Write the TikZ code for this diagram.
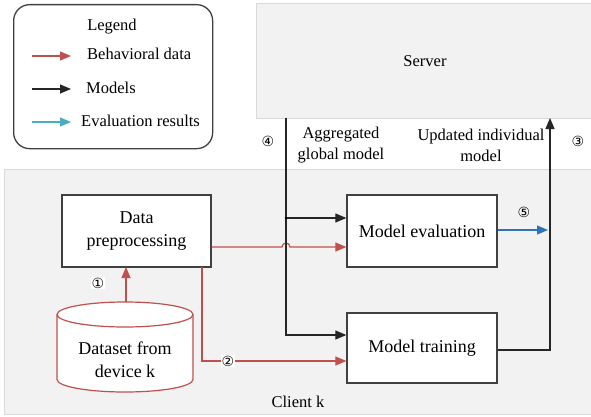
\documentclass[tikz,border=0pt]{standalone}
\usepackage{fontspec}
\setmainfont{Liberation Serif}
\newfontfamily\circfont{DejaVu Sans}
\usetikzlibrary{arrows.meta}
\definecolor{datared}{RGB}{192,80,77}
\definecolor{evalblue}{RGB}{46,117,182}
\definecolor{legblue}{RGB}{75,172,198}
\definecolor{panelfill}{RGB}{242,242,242}
\definecolor{panelline}{RGB}{217,217,217}
\definecolor{boxline}{RGB}{64,64,64}
\tikzset{
  panel/.style={fill=panelfill,draw=panelline,line width=1.2pt},
  procbox/.style={draw=boxline,fill=white,line width=1.3pt,align=center,font=\fontsize{18}{23}\selectfont},
  lbl/.style={font=\fontsize{16.5}{21}\selectfont,align=center,inner sep=0pt},
  num/.style={font=\circfont\fontsize{14}{14}\selectfont,inner sep=0pt},
  tip/.style={-{Triangle[length=11pt,width=9pt]}},
  datafl/.style={draw=datared,line width=1.2pt},
  modelfl/.style={draw=black!85,line width=1.2pt},
  evalfl/.style={draw=evalblue,line width=1.2pt},
}
\begin{document}
\begin{tikzpicture}[x=1pt,y=-1pt]
\useasboundingbox (0,0) rectangle (591,417);
\fill[white] (0,0) rectangle (591,417);
% panels
\node[panel,anchor=north west,minimum width=600pt,minimum height=245pt,inner sep=0pt] (client) at (4,169) {};
\node[panel,anchor=north west,minimum width=345pt,minimum height=115pt,inner sep=0pt] (server) at (256,3) {};
\node[lbl] (servertxt) at (425,61) {Server};
\node[lbl] (clienttxt) at (298,402) {Client k};
% legend
\node[draw=boxline,line width=1.3pt,rounded corners=16pt,minimum width=199pt,minimum height=144pt,anchor=north west] (legend) at (13,4) {};
\node[lbl] (legtitle) at (112,27) {Legend};
\coordinate (lr1) at (32,56); \coordinate (lr2) at (71,56);
\coordinate (lb1) at (32,89); \coordinate (lb2) at (71,89);
\coordinate (lc1) at (32,122); \coordinate (lc2) at (71,122);
\draw[datafl,tip] (lr1) -- (lr2);
\draw[modelfl,tip] (lb1) -- (lb2);
\draw[draw=legblue,line width=1.2pt,tip] (lc1) -- (lc2);
\node[lbl,anchor=west] (legdata) at (87,54) {Behavioral data};
\node[lbl,anchor=west] (legmodel) at (86,88) {Models};
\node[lbl,anchor=west] (legeval) at (81,121) {Evaluation results};
% boxes
\node[procbox,minimum width=149pt,minimum height=72pt] (prep) at (136.5,231) {Data\\preprocessing};
\node[procbox,minimum width=150pt,minimum height=72pt] (eval) at (422,231) {Model evaluation};
\node[procbox,minimum width=150pt,minimum height=70pt] (train) at (422,348) {Model training};
% cylinder
\draw[datared,line width=1.2pt,fill=white] (57,314.5) arc[start angle=180,end angle=0,x radius=68pt,y radius=12.5pt]
  -- (193,379.5) arc[start angle=0,end angle=-180,x radius=68pt,y radius=12.5pt] -- cycle;
\draw[datared,line width=1.2pt] (57,314.5) arc[start angle=180,end angle=360,x radius=68pt,y radius=12.5pt];
\node[procbox,draw=none,fill=none,inner sep=0pt] (dataset) at (125,360) {Dataset from\\device k};
\coordinate (cyltop) at (126,302);
% data flows
\draw[datafl,tip] (cyltop) -- (126,267);
\node[num,fill=white,inner sep=1pt] (n1) at (98,283) {①};
\draw[datafl,tip] (prep.east |- 0,247) -- (282,247) arc[start angle=180,end angle=0,radius=4pt] -- (eval.west |- 0,247);
\draw[datafl,tip] (202,267) -- (202,361) -- (train.west |- 0,361);
\node[num,fill=white,inner sep=1pt] (n2) at (228,361) {②};
% model flows
\coordinate (down) at (286,118);
\draw[modelfl,tip] (down) -- (286,335) -- (train.west |- 0,335);
\draw[modelfl,tip] (286,218) -- (eval.west |- 0,218);
\fill[black] (286,218) circle (1.3pt);
\coordinate (up) at (550,118);
\draw[modelfl,tip] (train.east |- 0,350) -- (550,350) -- (up);
\draw[evalfl,tip] (eval.east |- 0,230) -- (548,230);
\node[num] (n5) at (524,212) {⑤};
\node[num] (n4) at (268,141) {④};
\node[num] (n3) at (578,141) {③};
\node[lbl] (agg) at (341,145) {Aggregated\\global model};
\node[lbl] (upd) at (481,145) {Updated individual\\model};
\end{tikzpicture}
\end{document}
